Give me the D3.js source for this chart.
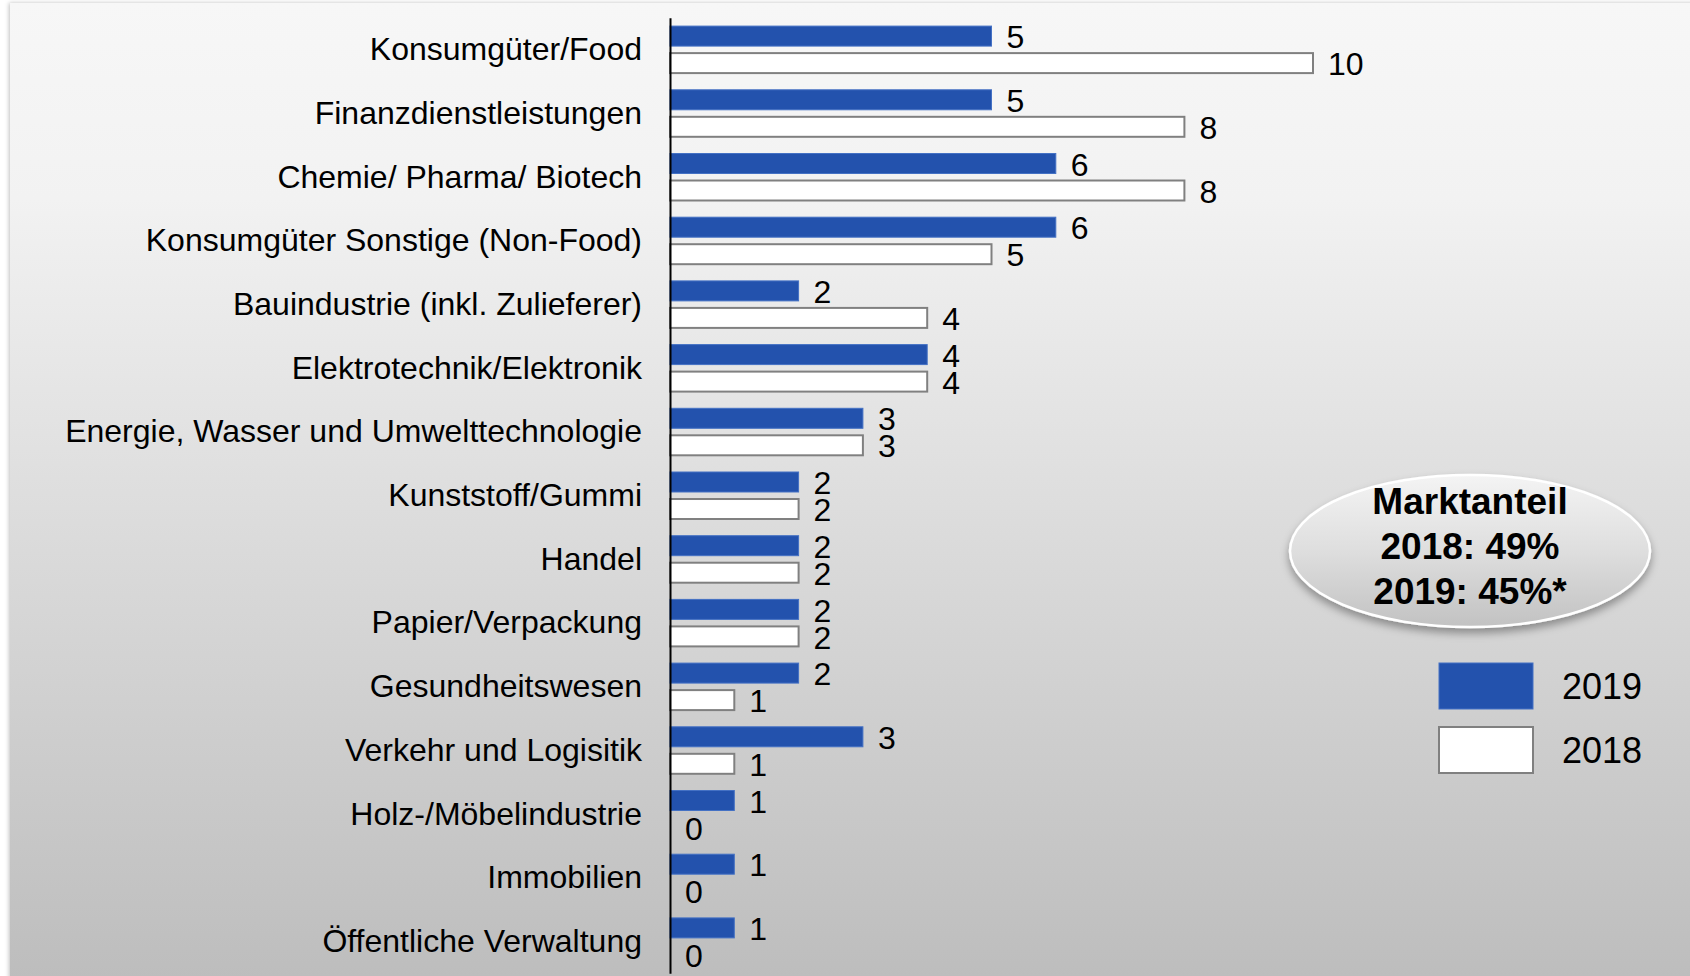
<!DOCTYPE html>
<html>
<head>
<meta charset="utf-8">
<script src="https://cdn.jsdelivr.net/npm/d3@7"></script>
<style>
  body { margin: 0; background: #ffffff; }
  svg { display: block; font-family: "Liberation Sans", Arial, sans-serif; }
</style>
</head>
<body>
<div id="chart"></div>
<script>
// data
var categories = [
  "Konsumgüter/Food",
  "Finanzdienstleistungen",
  "Chemie/ Pharma/ Biotech",
  "Konsumgüter Sonstige (Non-Food)",
  "Bauindustrie (inkl. Zulieferer)",
  "Elektrotechnik/Elektronik",
  "Energie, Wasser und Umwelttechnologie",
  "Kunststoff/Gummi",
  "Handel",
  "Papier/Verpackung",
  "Gesundheitswesen",
  "Verkehr und Logisitik",
  "Holz-/Möbelindustrie",
  "Immobilien",
  "Öffentliche Verwaltung"
];
var values2019 = [5, 5, 6, 6, 2, 4, 3, 2, 2, 2, 2, 3, 1, 1, 1];
var values2018 = [10, 8, 8, 5, 4, 4, 3, 2, 2, 2, 1, 1, 0, 0, 0];
var seriesNames = ["2019", "2018"];
var marketShareLines = ["Marktanteil", "2018: 49%", "2019: 45%*"];

var svgWidth = 1690;
var svgHeight = 976;

var svg = d3.select("#chart")
    .append("svg")
    .attr("width", svgWidth)
    .attr("height", svgHeight);

var defs = svg.append("defs");

// background gradient
var bg = defs.append("linearGradient")
    .attr("id", "bgGrad")
    .attr("x1", 0).attr("y1", 0).attr("x2", 0).attr("y2", 1);
bg.append("stop").attr("offset", "0").attr("stop-color", "#f7f7f7");
bg.append("stop").attr("offset", "0.2").attr("stop-color", "#f2f2f2");
bg.append("stop").attr("offset", "1").attr("stop-color", "#bdbdbd");

var ellGrad = defs.append("linearGradient")
    .attr("id", "ellGrad")
    .attr("x1", 0).attr("y1", 0).attr("x2", 0).attr("y2", 1);
ellGrad.append("stop").attr("offset", "0").attr("stop-color", "#f4f4f4");
ellGrad.append("stop").attr("offset", "0.5").attr("stop-color", "#dedede");
ellGrad.append("stop").attr("offset", "1").attr("stop-color", "#c2c2c2");

var shadow = defs.append("filter")
    .attr("id", "shadow")
    .attr("x", "-20%").attr("y", "-20%")
    .attr("width", "140%").attr("height", "150%");
shadow.append("feDropShadow")
    .attr("dx", 0).attr("dy", 5)
    .attr("stdDeviation", 4)
    .attr("flood-color", "#000")
    .attr("flood-opacity", 0.35);

var panelShadow = defs.append("filter")
    .attr("id", "panelShadow")
    .attr("x", "-5%").attr("y", "-5%")
    .attr("width", "110%").attr("height", "110%");
panelShadow.append("feDropShadow")
    .attr("dx", -1).attr("dy", 0)
    .attr("stdDeviation", 2)
    .attr("flood-color", "#000")
    .attr("flood-opacity", 0.25);

svg.append("rect")
    .attr("x", 10)
    .attr("y", 3)
    .attr("width", svgWidth)
    .attr("height", svgHeight)
    .attr("fill", "url(#bgGrad)")
    .attr("filter", "url(#panelShadow)");

// scales
var xScale = d3.scaleLinear()
    .domain([0, 10])
    .range([670, 1313]);

var yScale = d3.scaleBand()
    .domain(categories)
    .range([17.75, 17.75 + 63.7 * categories.length])
    .padding(0);

var bw = yScale.bandwidth();
var ySub = d3.scaleBand()
    .domain(seriesNames)
    .range([bw / 2 - 23.5, bw / 2 + 23.5])
    .paddingInner(0.26);

var rows = categories.map(function(c, i) {
  return { cat: c, v2019: values2019[i], v2018: values2018[i] };
});

var chartGroup = svg.append("g");

// 2019 bars (blue)
chartGroup.selectAll(".bar2019")
    .data(rows)
    .enter()
    .append("rect")
    .attr("class", "bar2019")
    .attr("x", xScale(0))
    .attr("y", d => yScale(d.cat) + ySub("2019"))
    .attr("width", d => xScale(d.v2019) - xScale(0))
    .attr("height", ySub.bandwidth())
    .attr("fill", "#2352ad")
    .attr("stroke", "#4471c4")
    .attr("stroke-width", 1);

// 2018 bars (white)
chartGroup.selectAll(".bar2018")
    .data(rows.filter(d => d.v2018 > 0))
    .enter()
    .append("rect")
    .attr("class", "bar2018")
    .attr("x", xScale(0))
    .attr("y", d => yScale(d.cat) + ySub("2018"))
    .attr("width", d => xScale(d.v2018) - xScale(0))
    .attr("height", ySub.bandwidth())
    .attr("fill", "#ffffff")
    .attr("stroke", "#808080")
    .attr("stroke-width", 2);

// value labels
chartGroup.selectAll(".lab2019")
    .data(rows)
    .enter()
    .append("text")
    .attr("x", d => xScale(d.v2019) + 15)
    .attr("y", d => yScale(d.cat) + ySub("2019") + ySub.bandwidth() / 2)
    .attr("dy", "0.38em")
    .attr("font-size", "32px")
    .attr("fill", "#000")
    .text(d => d.v2019);

chartGroup.selectAll(".lab2018")
    .data(rows)
    .enter()
    .append("text")
    .attr("x", d => xScale(d.v2018) + 15)
    .attr("y", d => yScale(d.cat) + ySub("2018") + ySub.bandwidth() / 2)
    .attr("dy", "0.38em")
    .attr("font-size", "32px")
    .attr("fill", "#000")
    .text(d => d.v2018);

// category axis
var leftAxis = d3.axisLeft(yScale)
    .tickSize(0)
    .tickSizeOuter(0)
    .tickPadding(28);

var axisG = chartGroup.append("g")
    .attr("transform", `translate(${xScale(0)}, 0)`)
    .call(leftAxis);

axisG.select(".domain")
    .attr("stroke", "#000")
    .attr("stroke-width", 2);

axisG.selectAll("text")
    .attr("font-family", "'Liberation Sans', Arial, sans-serif")
    .attr("font-size", "32px")
    .attr("fill", "#000")
    .attr("dy", "0.33em");

// market share ellipse
var callout = svg.append("g");
callout.append("ellipse")
    .attr("cx", 1470)
    .attr("cy", 551)
    .attr("rx", 180)
    .attr("ry", 76)
    .attr("fill", "url(#ellGrad)")
    .attr("stroke", "#ffffff")
    .attr("stroke-width", 2.5)
    .attr("filter", "url(#shadow)");

callout.selectAll("text")
    .data(marketShareLines)
    .enter()
    .append("text")
    .attr("x", 1470)
    .attr("y", (d, i) => 501 + i * 44.8)
    .attr("dy", "0.36em")
    .attr("text-anchor", "middle")
    .attr("font-size", "37px")
    .attr("font-weight", "bold")
    .attr("fill", "#000")
    .text(d => d);

// legend
var legendColors = { "2019": "#2352ad", "2018": "#ffffff" };
var legendStroke = { "2019": "#4471c4", "2018": "#808080" };
var legendY = d3.scalePoint()
    .domain(seriesNames)
    .range([686, 750]);

var legend = svg.append("g");
legend.selectAll("rect")
    .data(seriesNames)
    .enter()
    .append("rect")
    .attr("x", 1439)
    .attr("y", d => legendY(d) - 23)
    .attr("width", 94)
    .attr("height", 46)
    .attr("fill", d => legendColors[d])
    .attr("stroke", d => legendStroke[d])
    .attr("stroke-width", d => d === "2018" ? 2 : 1);

legend.selectAll("text")
    .data(seriesNames)
    .enter()
    .append("text")
    .attr("x", 1562)
    .attr("y", d => legendY(d))
    .attr("dy", "0.36em")
    .attr("font-size", "36px")
    .attr("fill", "#000")
    .text(d => d);
</script>
</body>
</html>
